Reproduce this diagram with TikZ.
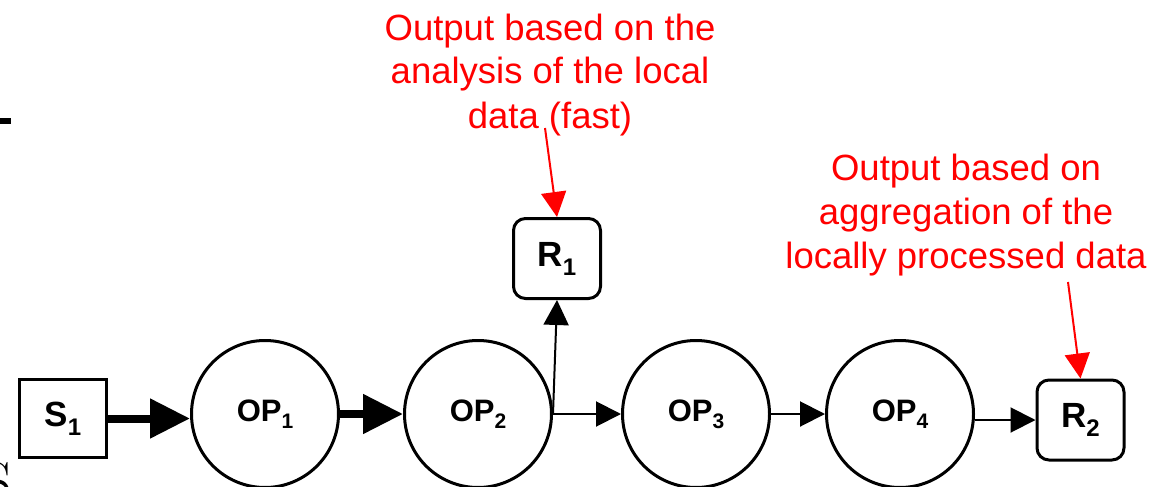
\documentclass[tikz,border=0pt]{standalone}
\usepackage{fontspec}
\setmainfont{Liberation Sans}
\newfontfamily\lmserif{Latin Modern Roman}
\usetikzlibrary{arrows.meta}
\newcommand{\boxlab}[2]{\fontsize{35}{35}\selectfont\bfseries #1\raisebox{-9pt}{\fontsize{24}{24}\selectfont #2}}
\newcommand{\oplab}[1]{\fontsize{31}{31}\selectfont\bfseries OP\raisebox{-7pt}{\fontsize{21}{21}\selectfont #1}}
\begin{document}
\begin{tikzpicture}[x=1pt,y=-1pt,
  src/.style={draw,line width=3pt,minimum width=87pt,minimum height=78pt,inner sep=0pt},
  res/.style={draw,line width=3pt,rounded corners=12pt,minimum width=87pt,minimum height=80pt,inner sep=0pt},
  opnode/.style={draw,circle,line width=3pt,minimum size=147pt,inner sep=0pt},
  thick flow/.style={line width=8pt,-{Triangle[length=40pt,width=38pt]}},
  thin flow/.style={line width=2pt,-{Triangle[length=25pt,width=25pt]}},
  note/.style={text=red,align=center,font=\fontsize{36.5}{44}\selectfont,inner sep=0pt},
  note arrow/.style={draw=red,line width=2pt,-{Triangle[length=25pt,width=25pt]},red}
]
\useasboundingbox (0,0) rectangle (1170,487);
\clip (0,0) rectangle (1170,487);
% stray artifacts at the left edge
\draw[line width=6pt] (0,121) -- (11,121);
\node[anchor=north,inner sep=0pt,font=\lmserif\fontsize{56}{56}\selectfont] (sart) at (-2,462) {S};

\node[src] (S1) at (63,418.5) {\boxlab{S}{1}};
\node[opnode] (OP1) at (265,414) {\oplab{1}};
\node[opnode] (OP2) at (478,414) {\oplab{2}};
\node[opnode] (OP3) at (696,414) {\oplab{3}};
\node[opnode] (OP4) at (900,414) {\oplab{4}};
\node[res] (R1) at (557,258.5) {\boxlab{R}{1}};
\node[res] (R2) at (1080.5,420) {\boxlab{R}{2}};

\draw[thick flow] (S1.east) -- (S1.east -| OP1.west);
\draw[thick flow] (OP1.east) -- (OP2.west);
\draw[thin flow] (OP2.east) -- (R1.south);
\draw[thin flow] (OP2.east) -- (OP3.west);
\draw[thin flow] (OP3.east) -- (OP4.west);
\draw[thin flow] (R2.west -| OP4.east) -- (R2.west);

\node[note,anchor=base] (N1) at (550,128) {Output based on the\\analysis of the local\\data (fast)};
\node[note,anchor=base] (N2) at (966,268) {Output based on\\aggregation of the\\locally processed data};
\coordinate (a1) at (545,128);
\coordinate (a2) at (1068,282);
\draw[note arrow] (a1) -- (R1.north);
\draw[note arrow] (a2) -- (R2.north);
\end{tikzpicture}
\end{document}
